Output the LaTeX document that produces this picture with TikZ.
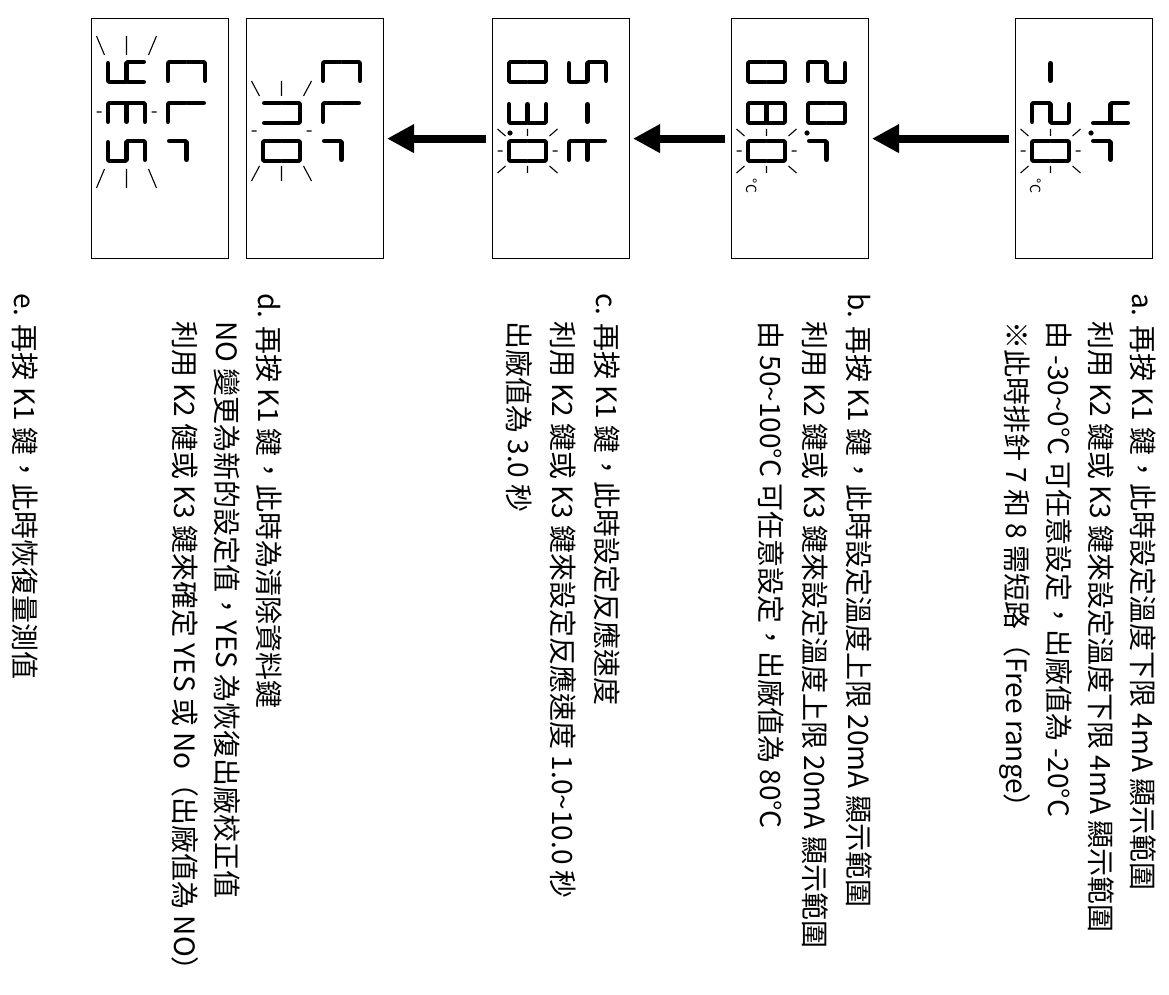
\documentclass[tikz,border=0pt]{standalone}
\usepackage{fontspec}
\setmainfont{Noto Sans CJK TC}
\usetikzlibrary{positioning,arrows.meta}
\tikzset{
  lcd/.style={draw, line width=1.2pt, minimum width=240pt, minimum height=137pt, inner sep=0pt, anchor=north west},
  seg/.style={line width=4.6pt, line cap=round, shorten <=1.3pt, shorten >=1.3pt},
  ray/.style={line width=1.1pt},
  flow/.style={line width=8pt, -{Triangle[length=27pt,width=27pt]}, shorten <=6pt, shorten >=3pt},
  txt/.style={anchor=west, inner sep=0pt, font=\fontsize{28}{33}\selectfont, text height=20pt, text depth=6pt},
  unit/.style={font=\fontsize{14}{16}\selectfont, inner sep=0pt},
  pics/digit/.style={code={
    \coordinate (sa1) at (0,0);      \coordinate (sa2) at (20,0);
    \coordinate (sb1) at (20,0);     \coordinate (sb2) at (20,-18.5);
    \coordinate (sc1) at (20,-18.5); \coordinate (sc2) at (20,-37);
    \coordinate (sd1) at (0,-37);    \coordinate (sd2) at (20,-37);
    \coordinate (se1) at (0,-18.5);  \coordinate (se2) at (0,-37);
    \coordinate (sf1) at (0,0);      \coordinate (sf2) at (0,-18.5);
    \coordinate (sg1) at (0,-18.5);  \coordinate (sg2) at (20,-18.5);
    \foreach \s in {#1} \draw[seg] (s\s1) -- (s\s2);
  }},
  pics/blink/.style 2 args={code={
    \draw[ray] (-#1,0) -- (-#2,0) (#1,0) -- (#2,0)
      (-#1,22) -- (-#2,30) (#1,22) -- (#2,30)
      (-#1,-22) -- (-#2,-30) (#1,-22) -- (#2,-30)
      (0,25) -- (0,30) (0,-25) -- (0,-30);
  }},
}

\begin{document}
\begin{tikzpicture}[x=1pt,y=1pt]
\useasboundingbox (0,0) rectangle (1169,-995);
\begin{scope}[shift={(1169,0)}, rotate=-90, transform shape]

  % display boxes
  \node[lcd] (lcd1) at (18,-16) {};
  \node[lcd] (lcd2) at (18,-300) {};
  \node[lcd] (lcd3) at (18,-539) {};
  \node[lcd] (lcd4) at (18,-785) {};
  \node[lcd] (lcd5) at (18,-940) {};

  \draw[flow] (lcd1) -- (lcd2);
  \draw[flow] (lcd2) -- (lcd3);
  \draw[flow] (lcd3) -- (lcd4);

  % 4.r / -20
  \begin{scope}[shift={(18,-16)}]
    \pic at (85,-24) {digit={b,c,f,g}};
    \fill (115,-62) circle (2.6);
    \pic at (123,-24) {digit={e,g}};
    \pic at (44,-84) {digit={g}};
    \pic at (85,-84) {digit={a,b,g,e,d}};
    \pic at (123,-84) {digit={a,b,c,d,e,f}};
    \pic at (133,-102.5) {blink={15}{22}};
    \node[unit] (deg1) at (168,-117) {°C};
  \end{scope}

  % 20.r / 080
  \begin{scope}[shift={(18,-300)}]
    \pic at (44,-24) {digit={a,b,g,e,d}};
    \pic at (85,-24) {digit={a,b,c,d,e,f}};
    \fill (115,-62) circle (2.6);
    \pic at (123,-24) {digit={e,g}};
    \pic at (44,-84) {digit={a,b,c,d,e,f}};
    \pic at (85,-84) {digit={a,b,c,d,e,f,g}};
    \pic at (123,-84) {digit={a,b,c,d,e,f}};
    \pic at (133,-102.5) {blink={15}{22}};
    \node[unit] (deg2) at (168,-117) {°C};
  \end{scope}

  % 5-t / 03.0
  \begin{scope}[shift={(18,-539)}]
    \pic at (44,-24) {digit={a,f,g,c,d}};
    \pic at (85,-24) {digit={g}};
    \pic at (123,-24) {digit={f,e,g,d}};
    \pic at (44,-84) {digit={a,b,c,d,e,f}};
    \pic at (85,-84) {digit={a,b,g,c,d}};
    \fill (115,-120) circle (2.6);
    \pic at (123,-84) {digit={a,b,c,d,e,f}};
    \pic at (133,-102.5) {blink={15}{22}};
  \end{scope}

  % CLr / nO
  \begin{scope}[shift={(18,-785)}]
    \pic at (44,-24) {digit={a,f,e,d}};
    \pic at (85,-24) {digit={f,e,d}};
    \pic at (123,-24) {digit={e,g}};
    \pic at (85,-84) {digit={a,b,c,e,f}};
    \pic at (123,-84) {digit={a,b,c,d,e,f}};
    \pic at (113,-102.5) {blink={35}{50}};
  \end{scope}

  % CLr / YES
  \begin{scope}[shift={(18,-940)}]
    \pic at (44,-24) {digit={a,f,e,d}};
    \pic at (85,-24) {digit={f,e,d}};
    \pic at (123,-24) {digit={e,g}};
    \pic at (44,-84) {digit={f,b,g,c,d}};
    \pic at (85,-84) {digit={a,f,g,e,d}};
    \pic at (123,-84) {digit={a,f,g,c,d}};
    \pic at (94,-102.5) {blink={57}{76}};
  \end{scope}

  % notes
  \node[txt] (a1) at (293,-30) {a. 再按 K1 鍵，此時設定溫度下限 4mA 顯示範圍};
  \node[txt] (a2) at (321,-72) {利用 K2 鍵或 K3 鍵來設定溫度下限 4mA 顯示範圍};
  \node[txt] (a3) at (321,-114) {由 -30\textasciitilde{}0°C 可任意設定，出廠值為 -20°C};
  \node[txt] (a4) at (321,-156) {※此時排針 7 和 8 需短路（Free range）};

  \node[txt] (b1) at (293,-314) {b. 再按 K1 鍵，此時設定溫度上限 20mA 顯示範圍};
  \node[txt] (b2) at (321,-358) {利用 K2 鍵或 K3 鍵來設定溫度上限 20mA 顯示範圍};
  \node[txt] (b3) at (321,-402) {由 50\textasciitilde{}100°C 可任意設定，出廠值為 80°C};

  \node[txt] (c1) at (293,-566) {c. 再按 K1 鍵，此時設定反應速度};
  \node[txt] (c2) at (321,-610) {利用 K2 鍵或 K3 鍵來設定反應速度 1.0\textasciitilde{}10.0 秒};
  \node[txt] (c3) at (321,-654) {出廠值為 3.0 秒};

  \node[txt] (d1) at (293,-904) {d. 再按 K1 鍵，此時為清除資料鍵};
  \node[txt] (d2) at (321,-946) {NO 變更為新的設定值，YES 為恢復出廠校正值};
  \node[txt] (d3) at (321,-988) {利用 K2 健或 K3 鍵來確定 YES 或 No（出廠值為 NO）};

  \node[txt] (e1) at (293,-1148) {e. 再按 K1 鍵，此時恢復量測值};

\end{scope}
\end{tikzpicture}
\end{document}
